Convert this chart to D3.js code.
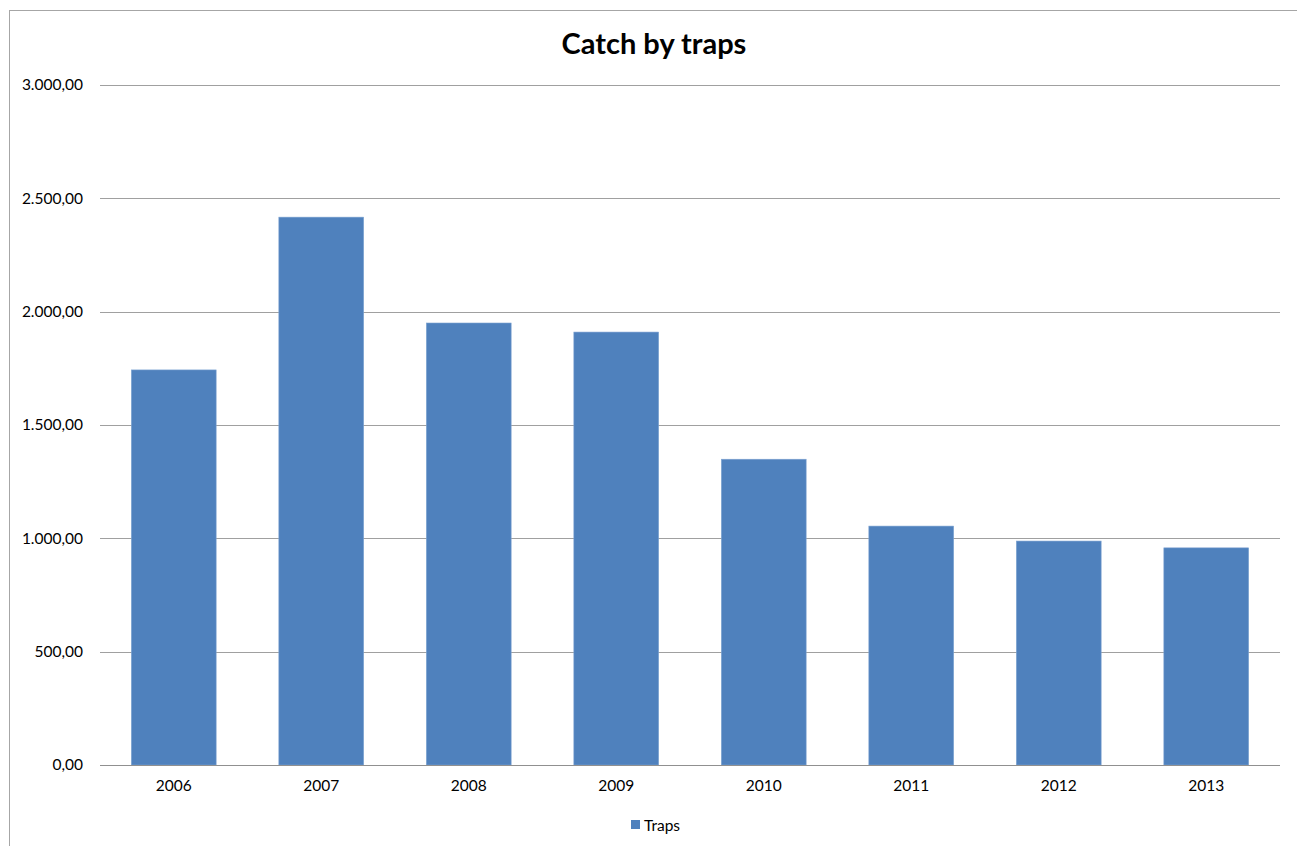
<!DOCTYPE html>
<html>
<head>
<meta charset="utf-8">
<script src="https://cdn.jsdelivr.net/npm/d3@7"></script>
<style>
  body { margin: 0; background: #fff; }
  text { font-family: Lato, "Open Sans", sans-serif; fill: #000; }
</style>
</head>
<body>
<div id="chart"></div>
<script>
// data
const years = ["2006", "2007", "2008", "2009", "2010", "2011", "2012", "2013"];
const traps = [1743, 2417, 1950, 1910, 1349, 1054, 988, 958];
const yTicks = [0, 500, 1000, 1500, 2000, 2500, 3000];
const seriesName = "Traps";
const chartTitle = "Catch by traps";

const width = 1297, height = 846;
const margin = {top: 85, right: 17, bottom: 81, left: 100};
const barColor = "#4f81bd";

var svg = d3.select("#chart")
  .append("svg")
  .attr("width", width)
  .attr("height", height);

// chart frame (runs off the right and bottom like the original)
svg.append("rect")
  .attr("x", 9.5)
  .attr("y", 10.5)
  .attr("width", width + 20)
  .attr("height", height + 20)
  .style("fill", "none")
  .style("stroke", "#a6a6a6")
  .style("stroke-width", 1);

const x = d3.scaleBand()
  .domain(years)
  .range([margin.left, width - margin.right])
  .paddingInner(0.425)
  .paddingOuter(0.2125);

const y = d3.scaleLinear()
  .domain([0, 3000])
  .range([height - margin.bottom, margin.top]);

const fmt = d => d3.format(",.2f")(d).replace(/,/g, "#").replace(".", ",").replace(/#/g, ".");

// gridlines
svg.append("g")
  .attr("class", "grid")
  .selectAll("line")
  .data(yTicks)
  .enter()
  .append("line")
  .attr("x1", margin.left)
  .attr("x2", width - margin.right)
  .attr("y1", d => Math.round(y(d)) + 0.5)
  .attr("y2", d => Math.round(y(d)) + 0.5)
  .style("stroke", "#a0a0a0")
  .style("stroke-width", 1);

// y axis labels
const yAxis = svg.append("g")
  .attr("transform", `translate(${margin.left - 17},0)`)
  .call(d3.axisLeft(y).tickValues(yTicks).tickFormat(fmt).tickSize(0).tickPadding(0));
yAxis.select(".domain").remove();
yAxis.selectAll(".tick text")
  .style("font-family", 'Lato, "Open Sans", sans-serif')
  .style("font-size", "15.5px")
  .style("fill", "#000");

// bars
svg.append("g")
  .selectAll("rect")
  .data(traps)
  .enter()
  .append("rect")
  .attr("x", (d, i) => x(years[i]))
  .attr("width", x.bandwidth())
  .attr("y", d => y(d))
  .attr("height", d => y(0) - y(d))
  .style("fill", barColor)
  .style("stroke", "#7ea3d2")
  .style("stroke-width", 0.6);

// x axis
const xAxis = svg.append("g")
  .attr("transform", `translate(0,${y(0)})`)
  .call(d3.axisBottom(x).tickSize(0).tickPadding(15));
xAxis.select(".domain").remove();
xAxis.selectAll(".tick text")
  .style("font-family", 'Lato, "Open Sans", sans-serif')
  .style("font-size", "15.5px")
  .style("fill", "#000");

svg.append("line")
  .attr("x1", margin.left)
  .attr("x2", width - margin.right)
  .attr("y1", Math.round(y(0)) + 0.5)
  .attr("y2", Math.round(y(0)) + 0.5)
  .style("stroke", "#909090")
  .style("stroke-width", 1);

// title
svg.append("text")
  .attr("x", 654)
  .attr("y", 54)
  .attr("text-anchor", "middle")
  .style("font-size", "29px")
  .style("font-weight", "bold")
  .text(chartTitle);

// legend
const legend = svg.append("g")
  .attr("transform", "translate(631,820)");
legend.append("rect")
  .attr("x", 0)
  .attr("y", 0)
  .attr("width", 9)
  .attr("height", 9)
  .style("fill", barColor);
legend.append("text")
  .attr("x", 13)
  .attr("y", 11)
  .style("font-size", "15.5px")
  .text(seriesName);
</script>
</body>
</html>
